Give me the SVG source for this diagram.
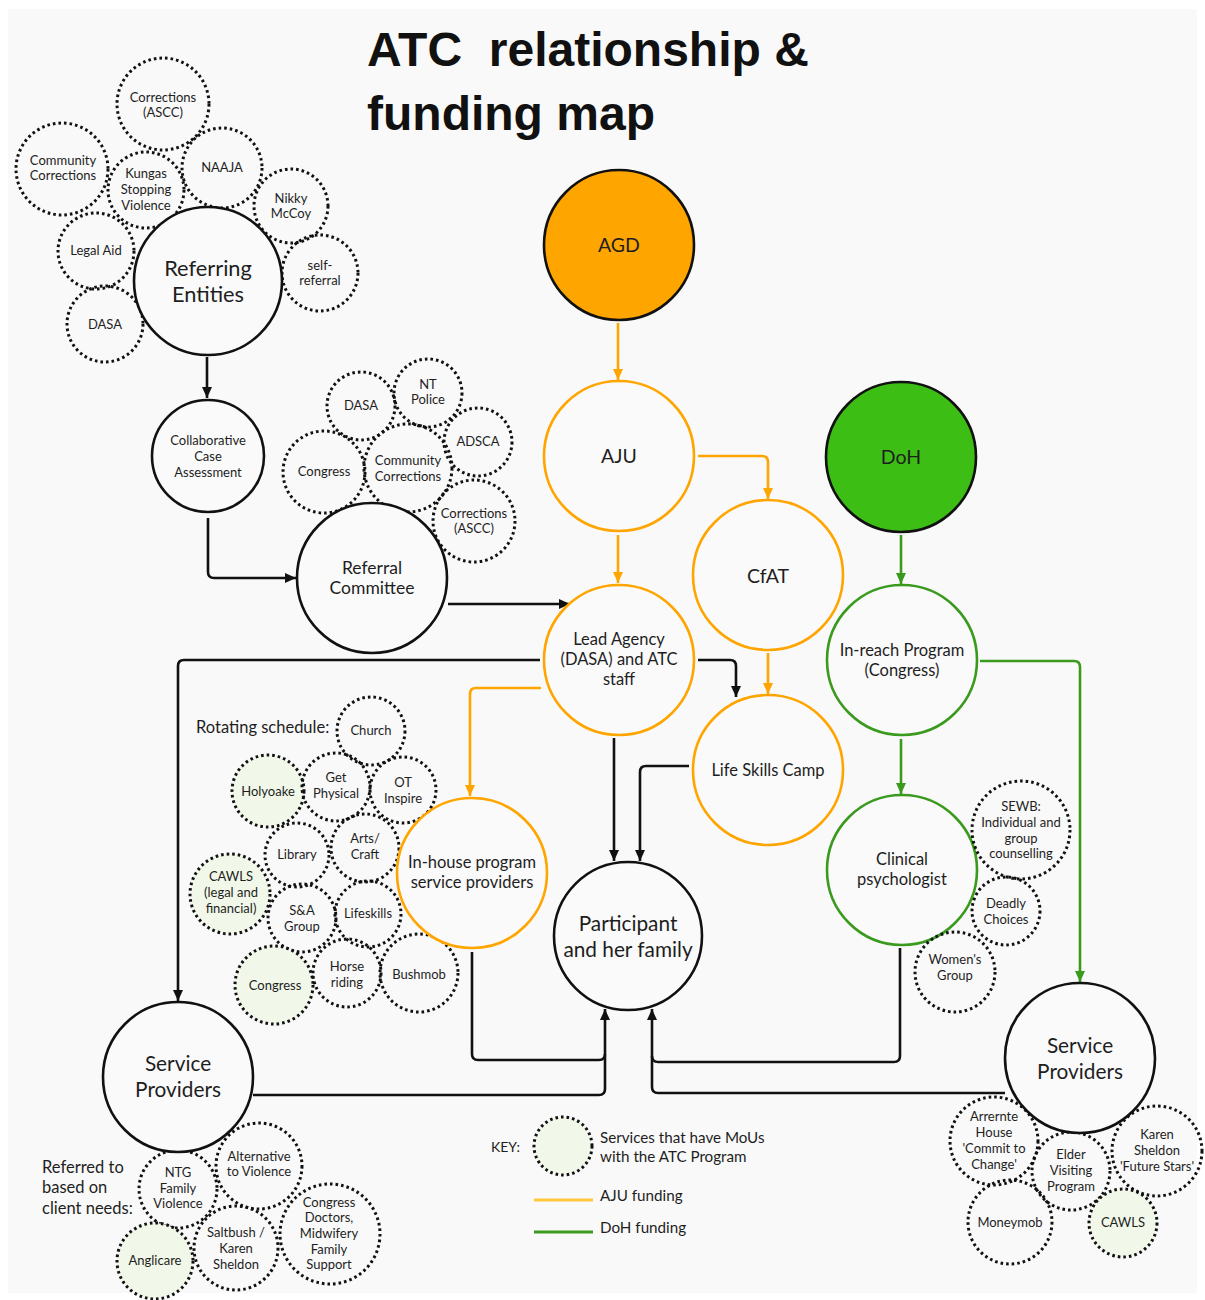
<svg xmlns="http://www.w3.org/2000/svg" width="1205" height="1300" viewBox="0 0 1205 1300">
  <style>
    text { font-family: Lato, "Open Sans", "Liberation Sans", sans-serif; fill: #1e1e1e; text-anchor: middle; }
    .title { font-family: "Liberation Sans", Arial, sans-serif; font-size: 48px; font-weight: 700; text-anchor: start; fill: #111; white-space: pre; }
    .s12 { font-size: 13px; }
    .s13 { font-size: 14px; }
    .s14 { font-size: 15.2px; }
    .s15 { font-size: 16.5px; }
    .s16 { font-size: 17.5px; }
    .s18 { font-size: 19.5px; }
    .s19 { font-size: 20.8px; }
    .s20 { font-size: 21.8px; }
    .left { text-anchor: start; }
    .dot { fill: none; stroke: #111; stroke-width: 3; stroke-dasharray: 2.6 3; }
    .mou { fill: #f1f8e9; }
    .big { fill: #fafafa; stroke: #111; stroke-width: 2.6; }
    .aju { fill: #fafafa; stroke: #ffa500; stroke-width: 2.6; }
    .doh { fill: #fafafa; stroke: #3a9a1e; stroke-width: 2.6; }
    .ln { fill: none; stroke: #111; stroke-width: 2.6; }
    .lo { fill: none; stroke: #ffa500; stroke-width: 2.6; }
    .lg { fill: none; stroke: #3a9a1e; stroke-width: 2.6; }
  </style>
  <defs>
    <marker id="ab" markerUnits="userSpaceOnUse" markerWidth="11" markerHeight="10" refX="11" refY="5" orient="auto">
      <path d="M0,0 L11,5 L0,10 z" fill="#111"/>
    </marker>
    <marker id="ao" markerUnits="userSpaceOnUse" markerWidth="11" markerHeight="10" refX="11" refY="5" orient="auto">
      <path d="M0,0 L11,5 L0,10 z" fill="#ffa500"/>
    </marker>
    <marker id="ag" markerUnits="userSpaceOnUse" markerWidth="11" markerHeight="10" refX="11" refY="5" orient="auto">
      <path d="M0,0 L11,5 L0,10 z" fill="#3a9a1e"/>
    </marker>
  </defs>

  <!-- page -->
  <rect x="0" y="0" width="1205" height="1300" fill="#ffffff"/>
  <rect x="8" y="9" width="1189" height="1284" fill="#f9f9f9"/>

  <!-- title -->
  <text class="title" x="367" y="66" xml:space="preserve">ATC  relationship &amp;</text>
  <text class="title" x="367" y="130">funding map</text>

  <!-- connectors -->
  <g id="connectors">
    <path class="ln" d="M207,357 V398" marker-end="url(#ab)"/>
    <path class="ln" d="M208,518 V572 Q208,578 214,578 H296" marker-end="url(#ab)"/>
    <path class="ln" d="M448,604 H570" marker-end="url(#ab)"/>
    <path class="lo" d="M618,323 V380" marker-end="url(#ao)"/>
    <path class="lo" d="M618,535 V583" marker-end="url(#ao)"/>
    <path class="lo" d="M698,456 H762 Q768,456 768,462 V499" marker-end="url(#ao)"/>
    <path class="lo" d="M768,653 V694" marker-end="url(#ao)"/>
    <path class="lg" d="M901,535 V584" marker-end="url(#ag)"/>
    <path class="lg" d="M901,739 V794" marker-end="url(#ag)"/>
    <path class="lg" d="M980,661 H1074 Q1080,661 1080,667 V982" marker-end="url(#ag)"/>
    <path class="ln" d="M698,660 H730 Q736,660 736,666 V697" marker-end="url(#ab)"/>
    <path class="ln" d="M540,660 H184 Q178,660 178,666 V1001" marker-end="url(#ab)"/>
    <path class="lo" d="M541,688 H476 Q470,688 470,694 V796" marker-end="url(#ao)"/>
    <path class="ln" d="M614,738 V861" marker-end="url(#ab)"/>
    <path class="ln" d="M689,766 H646 Q640,766 640,772 V861" marker-end="url(#ab)"/>
    <path class="ln" d="M472,952 V1054 Q472,1060 478,1060 H599 Q605,1060 605,1054"/>
    <path class="ln" d="M253,1095 H599 Q605,1095 605,1089 V1009" marker-end="url(#ab)"/>
    <path class="ln" d="M900,948 V1056 Q900,1062 894,1062 H658 Q652,1062 652,1056"/>
    <path class="ln" d="M1005,1093 H658 Q652,1093 652,1087 V1009" marker-end="url(#ab)"/>
  </g>

  <!-- referring entities cluster -->
  <g id="referrers">
    <g id="r-corrections"><circle class="dot" cx="163" cy="104" r="46"/><text class="s12" x="163" y="102">Corrections</text><text class="s12" x="163" y="117">(ASCC)</text></g>
    <g id="r-community"><circle class="dot" cx="62" cy="169" r="46"/><text class="s12" x="63" y="165">Community</text><text class="s12" x="63" y="180">Corrections</text></g>
    <g id="r-kungas"><circle class="dot" cx="146" cy="190" r="38"/><text class="s12" x="146" y="178">Kungas</text><text class="s12" x="146" y="194">Stopping</text><text class="s12" x="146" y="210">Violence</text></g>
    <g id="r-naaja"><circle class="dot" cx="222" cy="168" r="40"/><text class="s12" x="222" y="172">NAAJA</text></g>
    <g id="r-nikky"><circle class="dot" cx="291" cy="206" r="37"/><text class="s12" x="291" y="203">Nikky</text><text class="s12" x="291" y="218">McCoy</text></g>
    <g id="r-self"><circle class="dot" cx="320" cy="273" r="38"/><text class="s12" x="320" y="270">self-</text><text class="s12" x="320" y="285">referral</text></g>
    <g id="r-legal"><circle class="dot" cx="96" cy="251" r="38"/><text class="s12" x="96" y="255">Legal Aid</text></g>
    <g id="r-dasa"><circle class="dot" cx="105" cy="324" r="38"/><text class="s12" x="105" y="329">DASA</text></g>
  </g>
  <g id="referring-entities"><circle class="big" cx="208" cy="281" r="74"/><text class="s20" x="208" y="276">Referring</text><text class="s20" x="208" y="302">Entities</text></g>

  <g id="collab-assessment"><circle class="big" cx="208" cy="456" r="56"/><text class="s12" x="208" y="445">Collaborative</text><text class="s12" x="208" y="461">Case</text><text class="s12" x="208" y="477">Assessment</text></g>

  <!-- referral committee members -->
  <g id="committee-members">
    <g id="c-dasa"><circle class="dot" cx="361" cy="406" r="34"/><text class="s12" x="361" y="410">DASA</text></g>
    <g id="c-police"><circle class="dot" cx="428" cy="393" r="34"/><text class="s12" x="428" y="389">NT</text><text class="s12" x="428" y="404">Police</text></g>
    <g id="c-adsca"><circle class="dot" cx="478" cy="442" r="34"/><text class="s12" x="478" y="446">ADSCA</text></g>
    <g id="c-congress"><circle class="dot" cx="324" cy="472" r="41"/><text class="s12" x="324" y="476">Congress</text></g>
    <g id="c-community"><circle class="dot" cx="408" cy="468" r="44"/><text class="s12" x="408" y="465">Community</text><text class="s12" x="408" y="481">Corrections</text></g>
    <g id="c-corrections"><circle class="dot" cx="474" cy="521" r="41"/><text class="s12" x="474" y="518">Corrections</text><text class="s12" x="474" y="533">(ASCC)</text></g>
  </g>
  <g id="referral-committee"><circle class="big" cx="372" cy="578" r="75"/><text class="s16" x="372" y="574">Referral</text><text class="s16" x="372" y="594">Committee</text></g>

  <!-- funders and programs -->
  <g id="agd"><circle cx="619" cy="245" r="75" fill="#ffa500" stroke="#111" stroke-width="2.6"/><text class="s18" x="619" y="252">AGD</text></g>
  <g id="aju"><circle class="aju" cx="619" cy="456" r="75"/><text class="s18" x="619" y="463">AJU</text></g>
  <g id="cfat"><circle class="aju" cx="768" cy="575" r="75"/><text class="s18" x="768" y="583">CfAT</text></g>
  <g id="doh"><circle cx="901" cy="457" r="75" fill="#3cbe14" stroke="#111" stroke-width="2.6"/><text class="s18" x="901" y="464">DoH</text></g>
  <g id="lead-agency"><circle class="aju" cx="619" cy="660" r="75"/><text class="s15" x="619" y="645">Lead Agency</text><text class="s15" x="619" y="665">(DASA) and ATC</text><text class="s15" x="619" y="685">staff</text></g>
  <g id="in-reach"><circle class="doh" cx="902" cy="660" r="75"/><text class="s15" x="902" y="656">In-reach Program</text><text class="s15" x="902" y="676">(Congress)</text></g>
  <g id="life-skills"><circle class="aju" cx="768" cy="770" r="75"/><text class="s15" x="768" y="776">Life Skills Camp</text></g>

  <!-- rotating schedule -->
  <text class="s15 left" x="196" y="733">Rotating schedule:</text>
  <g id="rotating">
    <g id="p-church"><circle class="dot" cx="371" cy="731" r="34"/><text class="s12" x="371" y="735">Church</text></g>
    <g id="p-holyoake"><circle class="dot mou" cx="268" cy="791" r="36"/><text class="s12" x="268" y="796">Holyoake</text></g>
    <g id="p-getphysical"><circle class="dot" cx="336" cy="787" r="34"/><text class="s12" x="336" y="782">Get</text><text class="s12" x="336" y="798">Physical</text></g>
    <g id="p-ot"><circle class="dot" cx="403" cy="790" r="33"/><text class="s12" x="403" y="787">OT</text><text class="s12" x="403" y="803">Inspire</text></g>
    <g id="p-library"><circle class="dot" cx="297" cy="855" r="32"/><text class="s12" x="297" y="859">Library</text></g>
    <g id="p-arts"><circle class="dot" cx="365" cy="848" r="34"/><text class="s12" x="365" y="843">Arts/</text><text class="s12" x="365" y="859">Craft</text></g>
    <g id="p-cawls"><circle class="dot mou" cx="230" cy="894" r="40"/><text class="s12" x="231" y="881">CAWLS</text><text class="s12" x="231" y="897">(legal and</text><text class="s12" x="231" y="913">financial)</text></g>
    <g id="p-sa"><circle class="dot" cx="302" cy="918" r="34"/><text class="s12" x="302" y="915">S&amp;A</text><text class="s12" x="302" y="931">Group</text></g>
    <g id="p-lifeskills"><circle class="dot" cx="368" cy="914" r="33"/><text class="s12" x="368" y="918">Lifeskills</text></g>
    <g id="p-congress"><circle class="dot mou" cx="274" cy="985" r="39"/><text class="s12" x="275" y="990">Congress</text></g>
    <g id="p-horse"><circle class="dot" cx="347" cy="973" r="34"/><text class="s12" x="347" y="971">Horse</text><text class="s12" x="347" y="987">riding</text></g>
    <g id="p-bushmob"><circle class="dot" cx="419" cy="973" r="39"/><text class="s12" x="419" y="979">Bushmob</text></g>
  </g>
  <g id="in-house"><circle class="aju" cx="472" cy="873" r="75"/><text class="s15" x="472" y="868">In-house program</text><text class="s15" x="472" y="888">service providers</text></g>

  <g id="participant"><circle class="big" cx="628" cy="936" r="74"/><text class="s19" x="628" y="931">Participant</text><text class="s19" x="628" y="957">and her family</text></g>

  <!-- clinical psychologist and supports -->
  <g id="clinical"><circle class="doh" cx="902" cy="870" r="75"/><text class="s15" x="902" y="865">Clinical</text><text class="s15" x="902" y="885">psychologist</text></g>
  <g id="clinical-supports">
    <g id="k-sewb"><circle class="dot" cx="1021" cy="830" r="49"/><text class="s12" x="1021" y="811">SEWB:</text><text class="s12" x="1021" y="827">Individual and</text><text class="s12" x="1021" y="843">group</text><text class="s12" x="1021" y="858">counselling</text></g>
    <g id="k-deadly"><circle class="dot" cx="1006" cy="911" r="34"/><text class="s12" x="1006" y="908">Deadly</text><text class="s12" x="1006" y="924">Choices</text></g>
    <g id="k-women"><circle class="dot" cx="955" cy="972" r="40"/><text class="s12" x="955" y="964">Women's</text><text class="s12" x="955" y="980">Group</text></g>
  </g>

  <!-- service providers (left) -->
  <text class="s15 left" x="42" y="1173">Referred to</text>
  <text class="s15 left" x="42" y="1193">based on</text>
  <text class="s15 left" x="42" y="1214">client needs:</text>
  <g id="left-providers">
    <g id="l-ntg"><circle class="dot" cx="178" cy="1189" r="39"/><text class="s12" x="178" y="1177">NTG</text><text class="s12" x="178" y="1193">Family</text><text class="s12" x="178" y="1208">Violence</text></g>
    <g id="l-alt"><circle class="dot" cx="259" cy="1166" r="43"/><text class="s12" x="259" y="1161">Alternative</text><text class="s12" x="259" y="1176">to Violence</text></g>
    <g id="l-anglicare"><circle class="dot mou" cx="155" cy="1261" r="38"/><text class="s12" x="155" y="1265">Anglicare</text></g>
    <g id="l-saltbush"><circle class="dot" cx="236" cy="1248" r="42"/><text class="s12" x="236" y="1237">Saltbush /</text><text class="s12" x="236" y="1253">Karen</text><text class="s12" x="236" y="1269">Sheldon</text></g>
    <g id="l-congress"><circle class="dot" cx="330" cy="1234" r="50"/><text class="s12" x="329" y="1207">Congress</text><text class="s12" x="329" y="1222">Doctors,</text><text class="s12" x="329" y="1238">Midwifery</text><text class="s12" x="329" y="1254">Family</text><text class="s12" x="329" y="1269">Support</text></g>
  </g>
  <g id="service-providers-left"><circle class="big" cx="178" cy="1077" r="75"/><text class="s19" x="178" y="1071">Service</text><text class="s19" x="178" y="1097">Providers</text></g>

  <!-- service providers (right) -->
  <g id="right-providers">
    <g id="r2-arrernte"><circle class="dot" cx="994" cy="1141" r="44"/><text class="s12" x="994" y="1121">Arrernte</text><text class="s12" x="994" y="1137">House</text><text class="s12" x="994" y="1153">'Commit to</text><text class="s12" x="994" y="1169">Change'</text></g>
    <g id="r2-elder"><circle class="dot" cx="1071" cy="1171" r="39"/><text class="s12" x="1071" y="1159">Elder</text><text class="s12" x="1071" y="1175">Visiting</text><text class="s12" x="1071" y="1191">Program</text></g>
    <g id="r2-karen"><circle class="dot" cx="1157" cy="1151" r="45"/><text class="s12" x="1157" y="1139">Karen</text><text class="s12" x="1157" y="1155">Sheldon</text><text class="s12" x="1157" y="1171">'Future Stars'</text></g>
    <g id="r2-moneymob"><circle class="dot" cx="1010" cy="1222" r="42"/><text class="s12" x="1010" y="1227">Moneymob</text></g>
    <g id="r2-cawls"><circle class="dot mou" cx="1123" cy="1223" r="34"/><text class="s12" x="1123" y="1227">CAWLS</text></g>
  </g>
  <g id="service-providers-right"><circle class="big" cx="1080" cy="1058" r="75"/><text class="s19" x="1080" y="1053">Service</text><text class="s19" x="1080" y="1079">Providers</text></g>

  <!-- key -->
  <g id="key">
    <text class="s13 left" x="491" y="1152">KEY:</text>
    <circle class="dot mou" cx="563" cy="1146" r="29"/>
    <text class="s14 left" x="600" y="1143">Services that have MoUs</text>
    <text class="s14 left" x="600" y="1162">with the ATC Program</text>
    <line x1="534" y1="1200" x2="593" y2="1200" stroke="#ffc83d" stroke-width="3"/>
    <text class="s14 left" x="600" y="1201">AJU funding</text>
    <line x1="534" y1="1232" x2="593" y2="1232" stroke="#3a9a1e" stroke-width="3"/>
    <text class="s14 left" x="600" y="1233">DoH funding</text>
  </g>
</svg>
